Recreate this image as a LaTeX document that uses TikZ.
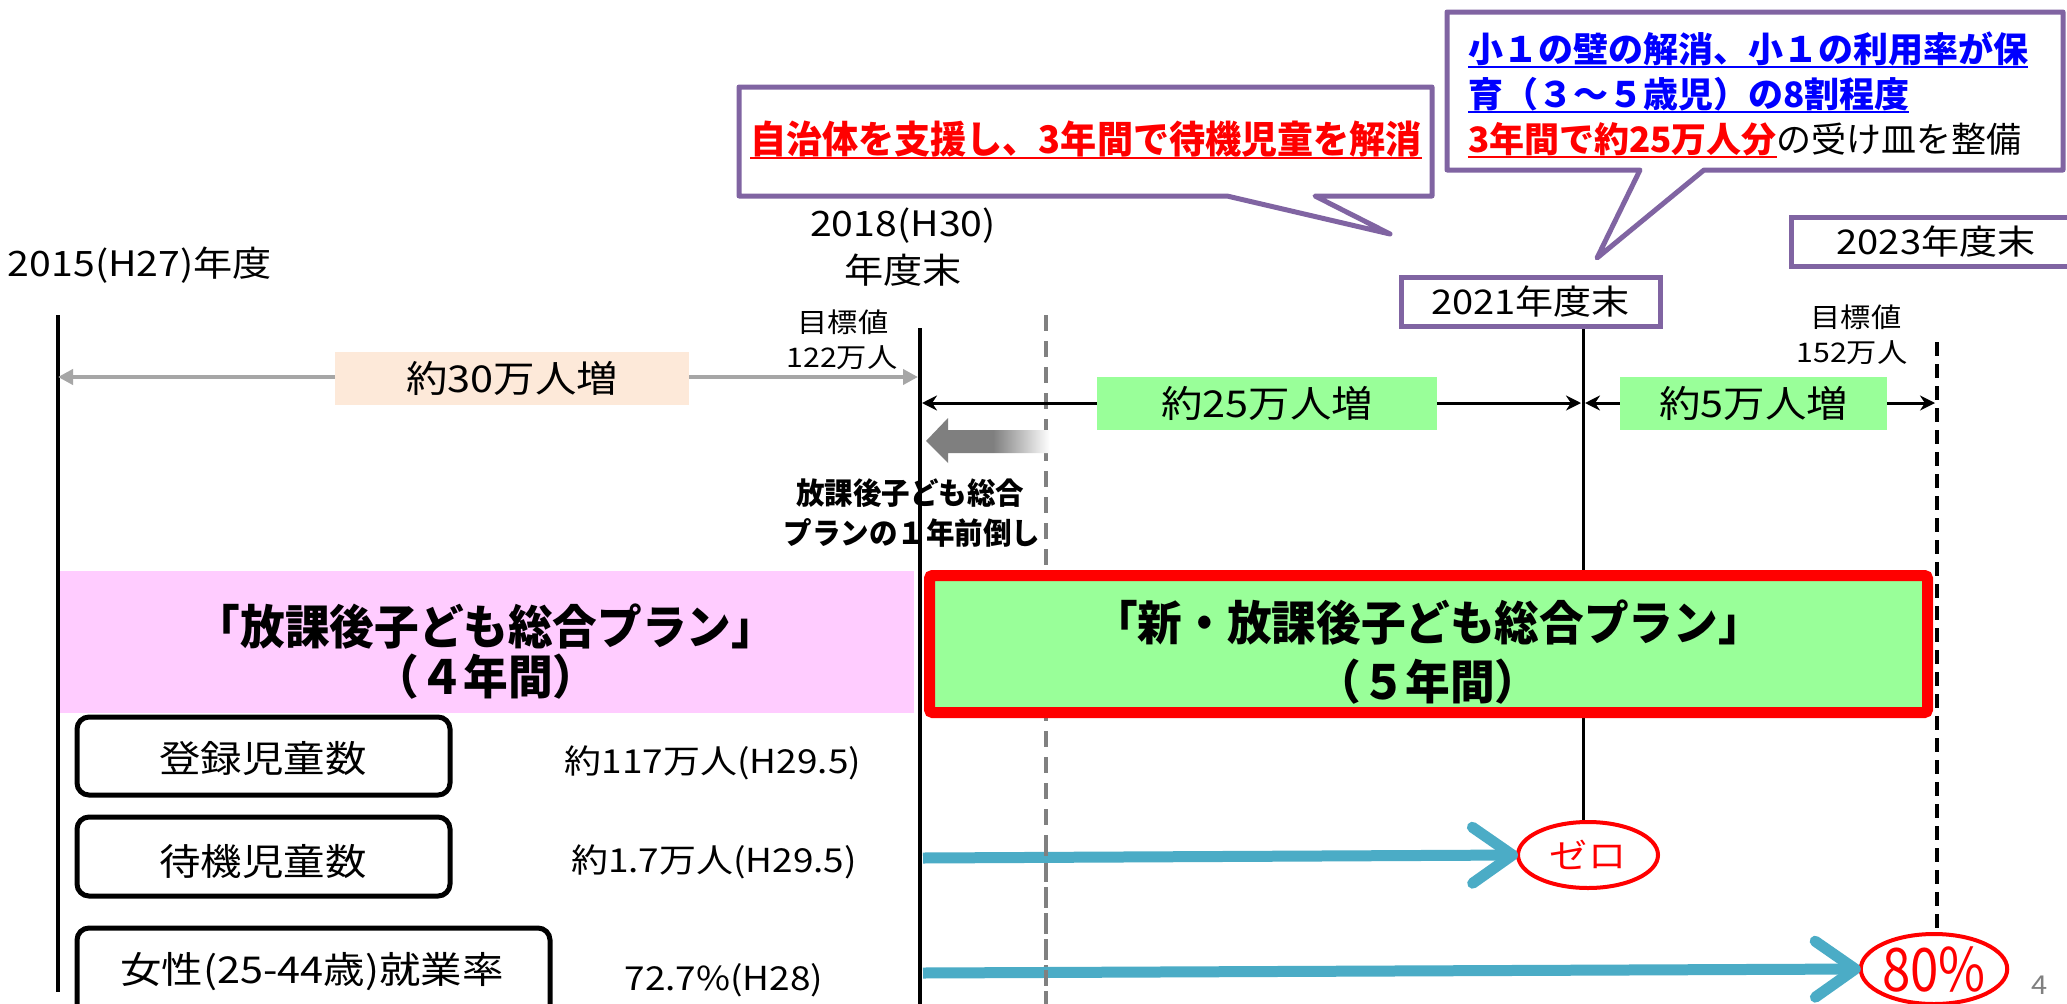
\documentclass[tikz,border=0pt]{standalone}
\usepackage{fontspec}
\setmainfont{Noto Sans CJK JP}[FakeStretch=1.12]
\newfontfamily\bjp{Noto Sans CJK JP}[FakeStretch=0.95]
\newfontfamily\bjpw{Noto Sans CJK JP}
\newfontfamily\njp{Noto Sans CJK JP}[FakeStretch=0.85]
\usetikzlibrary{arrows.meta,shapes.geometric}
\definecolor{cpurple}{HTML}{8064A2}
\definecolor{cpeach}{HTML}{FDE9D9}
\definecolor{cgreen}{HTML}{99FF99}
\definecolor{cpink}{HTML}{FFCCFF}
\definecolor{cblueline}{HTML}{4BACC6}
\definecolor{cblue}{HTML}{0000FF}
\definecolor{cred}{HTML}{FF0000}
\definecolor{cdash}{HTML}{808080}
\definecolor{carr}{HTML}{A6A6A6}
\definecolor{cfade}{HTML}{7F7F7F}
\pgfdeclarehorizontalshading{fadegray}{100bp}{color(0bp)=(cfade);color(52bp)=(cfade);color(75bp)=(white);color(100bp)=(white)}
\newcommand\fsz[1]{\fontsize{#1}{#1}\selectfont}
\newcommand\ulc[2]{\setbox0\hbox{#2}\rlap{\color{#1}\rule[-6pt]{\wd0}{2.5pt}}\box0}
\begin{document}
\begin{tikzpicture}[x=1pt,y=-1pt,
  every node/.style={inner sep=0pt,outer sep=0pt},
  vline/.style={line width=4pt,black},
  gdash/.style={line width=4pt,cdash,dash pattern=on 16pt off 10pt},
  kdash/.style={line width=4pt,black,dash pattern=on 14pt off 8pt},
  grayarr/.style={line width=4pt,carr,{Triangle[length=15pt,width=15pt]}-{Triangle[length=15pt,width=15pt]}},
  blkarr/.style={line width=3pt,black,{Stealth[length=15pt,width=15pt]}-{Stealth[length=15pt,width=15pt]}},
  bluearr/.style={line width=11pt,cblueline,-{Straight Barb[length=40pt,width=56pt,round]}},
  callout/.style={line width=5pt,cpurple,fill=white,line join=round},
  yearbox/.style={draw=cpurple,line width=5pt,fill=white,minimum height=49pt},
  incbox/.style={minimum height=53pt},
  rbox/.style={draw=black,line width=5pt,rounded corners=12pt,fill=white},
  goal/.style={draw=cred,line width=4pt,ellipse,fill=white,text=cred},
  reg/.style={font=\fsz{33}},
  yr/.style={font=\fsz{35}},
]
\useasboundingbox (0,0) rectangle (2067,1004);
\fill[white] (0,0) rectangle (2067,1004);

% ---- coordinates
\coordinate (l0t) at (58,315);   \coordinate (l0b) at (58,992);
\coordinate (l1t) at (920,328);  \coordinate (l1b) at (920,1004);
\coordinate (gdt) at (1046,315); \coordinate (gdb) at (1046,1004);
\coordinate (kdt) at (1937,342); \coordinate (kdb) at (1937,930);
\coordinate (l21t) at (1583,326); \coordinate (l21b) at (1583,822);
\coordinate (a30l) at (58,377);  \coordinate (a30r) at (918,377);
\coordinate (a25l) at (922,403); \coordinate (a25r) at (1581,403);
\coordinate (a5l) at (1585,403); \coordinate (a5r) at (1935,403);
\coordinate (b1s) at (923,858);
\coordinate (b2s) at (923,973);

% ---- vertical lines
\draw[vline] (l0t) -- (l0b);
\draw[gdash] (gdt) -- (gdb);
\draw[kdash] (kdt) -- (kdb);
\draw[vline,line width=3pt] (l21t) -- (l21b);

% ---- year labels
\node[yr,anchor=west] (y2015) at (8,265) {2015(H27)年度};
\node[yr] (y2018a) at (903,226) {2018(H30)};
\node[yr] (y2018b) at (903,270) {年度末};
\node[font=\fsz{27}] (t122a) at (843,322) {目標値};
\node[font=\fsz{27}] (t122b) at (842,358) {122万人};
\node[font=\fsz{27}] (t152a) at (1856,317) {目標値};
\node[font=\fsz{27}] (t152b) at (1852,353) {152万人};
\node[yearbox,minimum width=259pt,font=\fsz{34}] (y2021) at (1530.5,301.5) {2021年度末};
\node[yearbox,minimum width=290pt,font=\fsz{34}] (y2023) at (1936,242) {2023年度末};

% ---- increase arrows
\draw[grayarr] (a30l) -- (a30r);
\node[incbox,fill=cpeach,minimum width=354pt,font=\fsz{37}] (inc30) at (512,378) {約30万人増};
\draw[blkarr] (a25l) -- (a25r);
\draw[blkarr] (a5l) -- (a5r);
\node[incbox,fill=cgreen,minimum width=340pt,font=\fsz{37}] (inc25) at (1267,403.5) {約25万人増};
\node[incbox,fill=cgreen,minimum width=267pt,font=\fsz{37}] (inc5) at (1753.5,403.5) {約5万人増};

% ---- gradient arrow and text
\shade[shading=fadegray] (926,441) -- (948,418) -- (948,430) -- (1050,430) -- (1050,453) -- (948,453) -- (948,463) -- cycle;
\node[font=\bjp\bfseries\fsz{30}] (mae1) at (910,493) {放課後子ども総合};
\node[font=\bjp\bfseries\fsz{30}] (mae2) at (912,533) {プランの１年前倒し};

% ---- plan boxes
\node[fill=cpink,minimum width=854pt,minimum height=142pt] (pinkbox) at (487,642) {};
\node[font=\bjp\bfseries\fsz{47}] (plan1a) at (486,627) {「放課後子ども総合プラン」};
\node[font=\bjp\bfseries\fsz{47}] (plan1b) at (486,677) {（４年間）};
\draw[vline] (l1t) -- (l1b);
\node[draw=cred,line width=11pt,fill=cgreen,rounded corners=3pt,minimum width=998pt,minimum height=137pt] (redbox) at (1428.5,644) {};
\node[font=\bjp\bfseries\fsz{47}] (plan2a) at (1428,623) {「新・放課後子ども総合プラン」};
\node[font=\bjp\bfseries\fsz{47}] (plan2b) at (1428,682) {（５年間）};

% ---- indicator boxes
\node[rbox,minimum width=373pt,minimum height=78pt] (box1) at (263.5,756) {};
\node[font=\fsz{37}] (box1t) at (263,759) {登録児童数};
\node[rbox,minimum width=373pt,minimum height=79pt] (box2) at (263.5,856.5) {};
\node[font=\fsz{37}] (box2t) at (263,862) {待機児童数};
\node[rbox,minimum width=473pt,minimum height=92pt] (box3) at (313.5,974) {};
\node[font=\fsz{37}] (box3t) at (312,972) {女性(25-44歳)就業率};
\node[reg] (v1) at (713,763) {約117万人(H29.5)};
\node[reg] (v2) at (714,862) {約1.7万人(H29.5)};
\node[reg] (v3) at (724,980) {72.7\%(H28)};

% ---- blue arrows and goals
\node[goal,minimum width=140pt,minimum height=66pt,font=\fsz{34}] (zero) at (1588,855) {ゼロ};
\node[goal,minimum width=144pt,minimum height=70pt,font=\njp\fsz{60}] (p80) at (1934,969) {80\%};
\draw[bluearr] (b1s) -- (zero.west);
\draw[bluearr] (b2s) -- (p80.west);
\draw[gdash] (1046,840) -- (1046,1004);

% ---- callouts
\draw[callout] (739,87) -- (1432,87) -- (1432,196) -- (1315,196) -- (1390,234) -- (1227,196) -- (739,196) -- cycle;
\node[font=\bjp\bfseries\fsz{38},text=cred] (c1t) at (1086,140) {\ulc{cred}{自治体を支援し、3年間で待機児童を解消}};
\draw[callout] (1447,12) -- (2063,12) -- (2063,170) -- (1704,170) -- (1597,258) -- (1640,170) -- (1447,170) -- cycle;
\node[anchor=west,font=\bjpw\bfseries\fsz{35},text=cblue] (c2a) at (1468,50) {\ulc{cblue}{小１の壁の解消、小１の利用率が保}};
\node[anchor=west,font=\bjpw\bfseries\fsz{35},text=cblue] (c2b) at (1468,95) {\ulc{cblue}{育（３～５歳児）の8割程度}};
\node[anchor=west,font=\bjpw\fsz{35}] (c2c) at (1468,140) {{\bfseries\color{cred}\ulc{cred}{3年間で約25万人分}}の受け皿を整備};

% ---- page number
\node[font=\fsz{26},text=cdash] (pg) at (2040,985) {4};
\end{tikzpicture}
\end{document}
